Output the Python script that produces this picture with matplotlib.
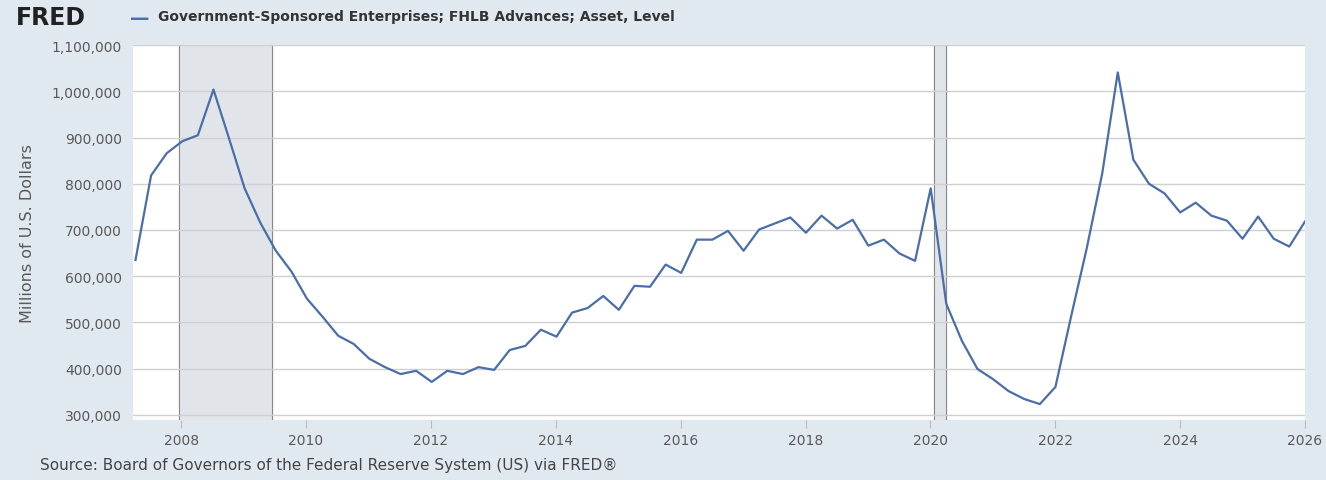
import matplotlib
matplotlib.use("Agg")
import matplotlib.pyplot as plt
import numpy as np

values = [635,818,866,892,905,1004,898,790,716,655,610,551,512,471,453,421,403,388,395,371,
          395,388,403,397,440,449,484,469,521,531,557,527,579,577,625,607,679,679,698,655,
          701,714,727,694,731,703,722,666,679,649,633,790,540,460,399,377,351,334,323,360,
          512,659,822,1041,852,800,779,738,759,731,720,681,729,681,664,718]
values = np.array(values) * 1000
dates = 2007.27 + 0.2497 * np.arange(len(values))
recessions = [(2007.97, 2009.46), (2020.05, 2020.25)]
yticks = list(range(300000, 1100001, 100000))
xticks = list(range(2008, 2027, 2))

fig = plt.figure(figsize=(13.26, 4.81), dpi=100)
fig.patch.set_facecolor("#e1e9f0")
ax = fig.add_axes([0.1003, 0.1247, 0.8839, 0.7793])
ax.set_facecolor("white")
for a, b in recessions:
    ax.axvspan(a, b, color="#e1e5ea", zorder=0)
    ax.axvline(a, color="#888888", lw=0.8, zorder=1)
    ax.axvline(b, color="#888888", lw=0.8, zorder=1)
ax.plot(dates, values, color="#4a6ea8", lw=1.6, zorder=3)
ax.set_xlim(2007.23, 2026.0)
ax.set_ylim(288500, 1100000)
ax.set_yticks(yticks)
ax.set_yticklabels([f"{v:,}" for v in yticks], fontsize=10, color="#595959")
ax.set_xticks(xticks)
ax.set_xticklabels([str(x) for x in xticks], fontsize=10, color="#595959")
ax.grid(axis="y", color="#d0d0d0", lw=1)
ax.tick_params(axis="y", length=0, pad=8)
ax.tick_params(axis="x", length=6, color="#bbbbbb")
for s in ax.spines.values():
    s.set_visible(False)
ax.set_ylabel("Millions of U.S. Dollars", fontsize=11.5, color="#595959", labelpad=12)
fig.text(0.012, 0.962, "FRED", fontsize=17, fontweight="bold", color="#222222", va="center")
fig.text(0.098, 0.962, "\u2014", fontsize=14, color="#4a6ea8", va="center", fontweight="bold")
fig.text(0.119, 0.964, "Government-Sponsored Enterprises; FHLB Advances; Asset, Level",
         fontsize=10, fontweight="bold", color="#333333", va="center")
fig.text(0.03, 0.022, "Source: Board of Governors of the Federal Reserve System (US) via FRED\u00ae",
         fontsize=11, color="#444444")
fig.savefig("out.png", dpi=100, facecolor=fig.get_facecolor())
